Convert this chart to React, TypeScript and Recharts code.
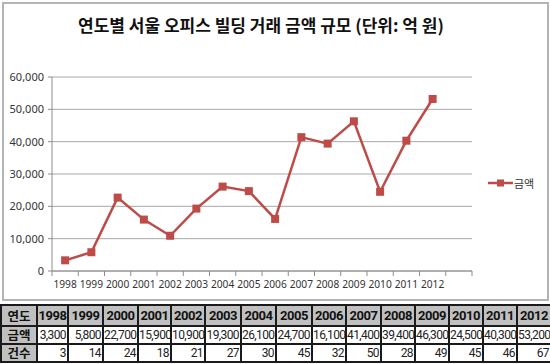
import React from 'react';
import { LineChart, Line, XAxis, YAxis, CartesianGrid, Legend } from 'recharts';

const title = '연도별 서울 오피스 빌딩 거래 금액 규모 (단위: 억 원)';
const seriesName = '금액';
const years = ['1998', '1999', '2000', '2001', '2002', '2003', '2004', '2005', '2006', '2007', '2008', '2009', '2010', '2011', '2012'];
const axisCategories = [...years, ''];
const amounts = [3300, 5800, 22700, 15900, 10900, 19300, 26100, 24700, 16100, 41400, 39400, 46300, 24500, 40300, 53200];
const counts = [3, 14, 24, 18, 21, 27, 30, 45, 32, 50, 28, 49, 45, 46, 67];
const yTicks = [0, 10000, 20000, 30000, 40000, 50000, 60000];
const rowLabels = ['연도', '금액', '건수'];

const data = axisCategories.map((c, i) => ({ year: c, amount: i < amounts.length ? amounts[i] : null }));

const fmt = (v: number) => v.toLocaleString('en-US');

const CHART_W = 550;
const CHART_H = 300;
const MARGIN = { top: 77, right: 78, bottom: 0, left: 0 };
const Y_W = 52;
const BAND = (CHART_W - MARGIN.right - Y_W) / axisCategories.length;
const RED = '#BE4B48';
const AXIS = '#8c8c8c';

const XTick = (props: any) => {
  const { x, y, payload, index } = props;
  const left = x - BAND / 2;
  return (
    <g>
      <line x1={left} y1={y} x2={left} y2={y + 5} stroke={AXIS} strokeWidth={1} />
      {index === axisCategories.length - 1 && (
        <line x1={x + BAND / 2} y1={y} x2={x + BAND / 2} y2={y + 5} stroke={AXIS} strokeWidth={1} />
      )}
      <text x={x} y={y + 17} textAnchor="middle" fontSize={10.2} fill="#333" fontFamily="'Noto Sans', sans-serif">
        {payload.value}
      </text>
    </g>
  );
};

const SquareDot = (props: any) => {
  const { cx, cy, index } = props;
  if (cy == null || cx == null) return <g key={`d${index}`} />;
  return <rect key={`d${index}`} x={cx - 4} y={cy - 4} width={8} height={8} fill={RED} />;
};

const LegendContent = (props: any) => {
  const { payload } = props;
  return (
    <div style={{ display: 'flex', alignItems: 'center', fontFamily: "'Noto Sans CJK KR', sans-serif", fontSize: 11, color: '#333' }}>
      {(payload || []).map((p: any, i: number) => (
        <div key={i} style={{ display: 'flex', alignItems: 'center' }}>
          <svg width={25} height={10}>
            <line x1={0} y1={5} x2={25} y2={5} stroke={RED} strokeWidth={2.5} />
            <rect x={9} y={1.5} width={7} height={7} fill={RED} />
          </svg>
          <span style={{ marginLeft: 1 }}>{p.value}</span>
        </div>
      ))}
    </div>
  );
};

const colWidths = [36, 31, 35, 35, 33, 34, 36, 35, 36, 34, 35, 34, 34, 34, 34, 34];
const border = '2px solid #1a1a1a';
const tableFont = "Roboto, 'Liberation Sans', sans-serif";

export default function App() {
  const headCell: React.CSSProperties = {
    background: '#c0c0c0',
    border,
    padding: 0,
    fontWeight: 'bold',
    textAlign: 'center',
    fontSize: 13,
    lineHeight: '15px',
    letterSpacing: -0.4,
    fontFamily: tableFont,
    overflow: 'hidden',
    whiteSpace: 'nowrap',
    color: '#111',
  };
  const labelCell: React.CSSProperties = {
    ...headCell,
    fontFamily: "'Noto Sans CJK KR', sans-serif",
    fontSize: 12.5,
    lineHeight: '14px',
    letterSpacing: 0,
  };
  const valCell: React.CSSProperties = {
    background: '#fff',
    border,
    padding: '0 1px 0 0',
    textAlign: 'right',
    fontSize: 12,
    lineHeight: '14px',
    letterSpacing: -0.6,
    fontFamily: tableFont,
    color: '#222',
    overflow: 'hidden',
    whiteSpace: 'nowrap',
  };
  return (
    <div style={{ position: 'absolute', left: 0, top: 0, width: 550, height: 364, background: '#fff', overflow: 'hidden' }}>
      <div style={{ position: 'absolute', left: 2, top: 2, width: 543, height: 295, border: '2px solid #b4b4b4' }} />
      <div
        style={{
          position: 'absolute',
          left: 0,
          top: 13,
          width: 522,
          textAlign: 'center',
          fontFamily: "'Noto Sans CJK KR', sans-serif",
          fontWeight: 'bold',
          fontSize: 17,
          color: '#111',
          lineHeight: '24px',
        }}
      >
        {title}
      </div>
      <div style={{ position: 'absolute', left: 0, top: 0 }}>
        <LineChart width={CHART_W} height={CHART_H} data={data} margin={MARGIN}>
          <CartesianGrid vertical={false} stroke="#a8a8a8" strokeWidth={1} />
          <XAxis
            dataKey="year"
            scale="band"
            interval={0}
            tickSize={0}
            tickMargin={0}
            height={29}
            stroke={AXIS}
            tick={<XTick />}
            tickLine={false}
          />
          <YAxis
            width={Y_W}
            domain={[0, 60000]}
            ticks={yTicks}
            tickFormatter={fmt}
            tickSize={4}
            tickMargin={4}
            stroke={AXIS}
            tick={{ fontSize: 11, fill: '#333', fontFamily: "'Noto Sans', sans-serif" }}
          />
          <Legend
            layout="vertical"
            align="center"
            verticalAlign="middle"
            content={<LegendContent />}
            wrapperStyle={{ left: 488, top: 175, width: 60 }}
          />
          <Line
            type="linear"
            dataKey="amount"
            name={seriesName}
            stroke={RED}
            strokeWidth={2.5}
            dot={<SquareDot />}
            activeDot={false}
            isAnimationActive={false}
          />
        </LineChart>
      </div>
      <table
        style={{
          position: 'absolute',
          left: 0,
          top: 304,
          width: 551,
          borderCollapse: 'collapse',
          tableLayout: 'fixed',
        }}
      >
        <colgroup>
          {colWidths.map((w, i) => (
            <col key={i} style={{ width: w }} />
          ))}
        </colgroup>
        <tbody>
          <tr style={{ height: 21 }}>
            <td style={labelCell}>{rowLabels[0]}</td>
            {years.map((y) => (
              <td key={y} style={headCell}>{y}</td>
            ))}
          </tr>
          <tr style={{ height: 18 }}>
            <td style={labelCell}>{rowLabels[1]}</td>
            {amounts.map((v, i) => (
              <td key={i} style={valCell}>{fmt(v)}</td>
            ))}
          </tr>
          <tr style={{ height: 18 }}>
            <td style={labelCell}>{rowLabels[2]}</td>
            {counts.map((v, i) => (
              <td key={i} style={valCell}>{v}</td>
            ))}
          </tr>
        </tbody>
      </table>
    </div>
  );
}
